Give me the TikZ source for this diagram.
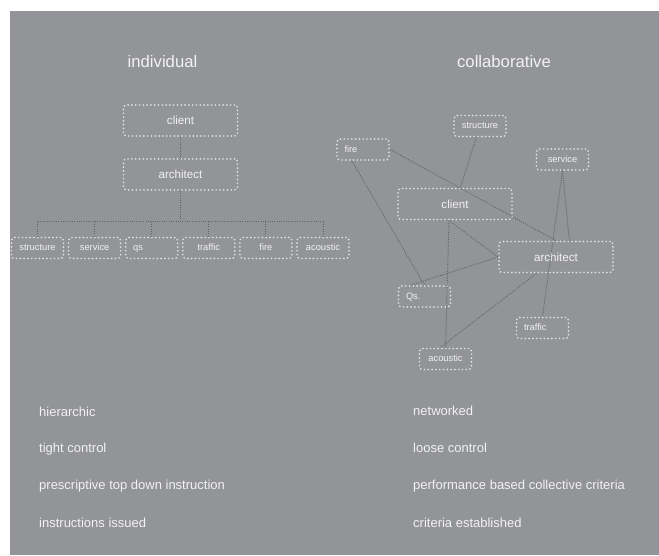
\documentclass[tikz,border=0pt]{standalone}
\usepackage{fontspec}
\setmainfont{Liberation Sans}
\usepackage{xcolor}
\usepackage{tikz}
\usetikzlibrary{positioning}

\definecolor{panel}{RGB}{147,148,152}
\definecolor{dotline}{RGB}{224,225,227}
\definecolor{wire}{RGB}{98,99,103}
\definecolor{label}{RGB}{242,242,242}

\begin{document}
\begin{tikzpicture}[
    x=1pt, y=1pt,
    bigbox/.style={rectangle, draw=dotline, rounded corners=3pt, line width=1.9pt, line cap=round, dash pattern=on 0pt off 3.8pt, minimum width=114pt, minimum height=31pt, text=label, font=\fontsize{11.6}{13}\selectfont},
    smallbox/.style={bigbox, minimum width=52pt, minimum height=21pt, text height=7pt, text depth=2pt, font=\fontsize{9.3}{11}\selectfont},
    leftbox/.style={smallbox, text width=37pt, inner xsep=7.5pt, align=left},
    title/.style={text=label, font=\fontsize{16.7}{20}\selectfont, anchor=base},
    note/.style={text=label, font=\fontsize{13}{15}\selectfont, anchor=base west, inner sep=0pt},
    link/.style={draw=wire, line width=0.9pt, dash pattern=on 1pt off 1.3pt}
]
    \useasboundingbox (0,0) rectangle (659,-555);
    \fill[panel] (10,-11) rectangle (659,-555);

    % headings
    \node[title] (indiv) at (162.5,-67) {individual};
    \node[title] (collab) at (504,-67) {collaborative};

    % individual: tree
    \node[bigbox] (lclient) at (180.5,-120.5) {client};
    \node[bigbox, below=21pt of lclient] (larch) {architect};
    \node[smallbox] (lstructure) at (37.5,-248) {structure};
    \node[smallbox, right=3.2pt of lstructure] (lservice) {service};
    \node[leftbox, right=3.2pt of lservice] (lqs) {qs};
    \node[smallbox, right=3.2pt of lqs] (ltraffic) {traffic};
    \node[smallbox, right=3.2pt of ltraffic] (lfire) {fire};
    \node[smallbox, right=3.2pt of lfire] (lacoustic) {acoustic};

    \path (larch.south) ++(0,-31) coordinate (bus);
    \draw[link] (lclient) -- (larch);
    \draw[link] (larch) -- (bus);
    \draw[link] (lstructure.north |- bus) -- (lacoustic.north |- bus);
    \foreach \n in {lstructure,lservice,lqs,ltraffic,lfire,lacoustic}
        \draw[link] (\n) -- (\n.north |- bus);

    % collaborative: network
    \node[smallbox] (rstructure) at (480,-126) {structure};
    \node[leftbox] (rfire) at (363,-149.5) {fire};
    \node[smallbox] (rservice) at (562.5,-159.5) {service};
    \node[bigbox] (rclient) at (455,-204) {client};
    \node[bigbox] (rarch) at (556,-257) {architect};
    \node[leftbox] (rqs) at (424.5,-296.5) {Qs.};
    \node[leftbox] (rtraffic) at (542.5,-328) {traffic};
    \node[smallbox] (racoustic) at (445.5,-359) {acoustic};

    \draw[link] (rstructure) -- (rclient);
    \draw[link] (rfire.east) -- (rarch.north);
    \draw[link] (rfire.226) -- (rqs.north);
    \draw[link] (rservice.south) -- (rarch.51);
    \draw[link] (rservice.south) -- (rtraffic.north);
    \draw[link] (rclient.250) -- (rarch.west);
    \draw[link] (rclient.250) -- (racoustic.north);
    \draw[link] (rarch.west) -- (rqs.140);
    \draw[link] (rarch.220) -- (racoustic.115);

    % characteristics
    \node[note] (hier) at (39,-416) {hierarchic};
    \node[note] (tight) at (39,-452) {tight control};
    \node[note] (prescr) at (39,-489) {prescriptive top down instruction};
    \node[note] (issued) at (39,-527) {instructions issued};
    \node[note] (netw) at (413,-415) {networked};
    \node[note] (loose) at (413,-452) {loose control};
    \node[note] (perf) at (413,-489) {performance based collective criteria};
    \node[note] (estab) at (413,-527) {criteria established};
\end{tikzpicture}
\end{document}
